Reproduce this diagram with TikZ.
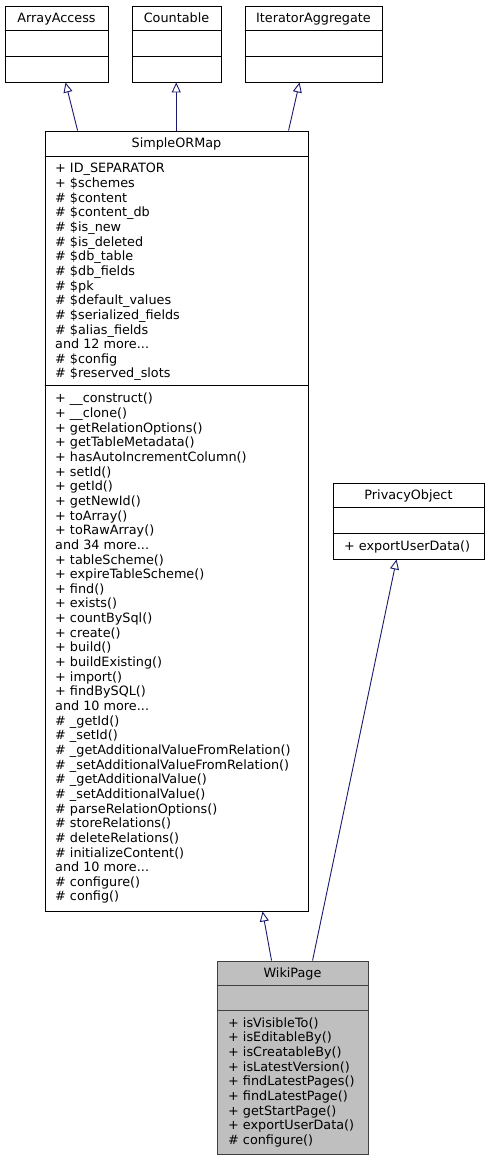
\documentclass[tikz,border=0pt]{standalone}
\usepackage{fontspec}
\setmainfont{DejaVu Sans}
\usetikzlibrary{arrows.meta}
\definecolor{edgeblue}{HTML}{191970}
\definecolor{wikigray}{HTML}{BFBFBF}
\definecolor{wikiborder}{HTML}{404040}
\begin{document}
\begin{tikzpicture}[x=1pt,y=-1pt,
  cls/.style={draw=black, line width=0.9pt, fill=white, inner sep=0pt, rectangle},
  hl/.style={cls, draw=wikiborder, fill=wikigray},
  ttl/.style={font=\fontsize{12.8}{14.65}\selectfont, inner sep=0pt, anchor=base},
  lst/.style={font=\fontsize{12.8}{14.65}\selectfont, inner sep=0pt, anchor=north west, align=left},
  divl/.style={draw=black, line width=0.9pt},
  inh/.style={draw=edgeblue, line width=0.9pt, -{Triangle[open, length=10pt, width=9pt, fill=white]}}]
\useasboundingbox (0,0) rectangle (489,1160);

% ArrayAccess
\node[cls, minimum width=103pt, minimum height=76pt] (aa) at (56.5,44) {};
\node[ttl] (aat) at (56.5,22) {ArrayAccess};
\draw[divl] ([yshift=-25pt]aa.north west) -- ([yshift=-25pt]aa.north east);
\draw[divl] ([yshift=-51pt]aa.north west) -- ([yshift=-51pt]aa.north east);

% Countable
\node[cls, minimum width=89pt, minimum height=76pt] (cnt) at (176.5,44) {};
\node[ttl] (cntt) at (176.5,22) {Countable};
\draw[divl] ([yshift=-25pt]cnt.north west) -- ([yshift=-25pt]cnt.north east);
\draw[divl] ([yshift=-51pt]cnt.north west) -- ([yshift=-51pt]cnt.north east);

% IteratorAggregate
\node[cls, minimum width=137pt, minimum height=76pt] (ia) at (313.5,44) {};
\node[ttl] (iat) at (313.5,22) {IteratorAggregate};
\draw[divl] ([yshift=-25pt]ia.north west) -- ([yshift=-25pt]ia.north east);
\draw[divl] ([yshift=-51pt]ia.north west) -- ([yshift=-51pt]ia.north east);

% SimpleORMap
\node[cls, minimum width=263pt, minimum height=780pt] (sorm) at (176.5,521) {};
\node[ttl] (sormt) at (176.5,147.7) {SimpleORMap};
\draw[divl] ([yshift=-26pt]sorm.north west) -- ([yshift=-26pt]sorm.north east);
\draw[divl] ([yshift=-255pt]sorm.north west) -- ([yshift=-255pt]sorm.north east);
\node[lst] (sorma) at (55,162.4) {\strut+ ID\_SEPARATOR\\
+ \$schemes\\
\# \$content\\
\# \$content\_db\\
\# \$is\_new\\
\# \$is\_deleted\\
\# \$db\_table\\
\# \$db\_fields\\
\# \$pk\\
\# \$default\_values\\
\# \$serialized\_fields\\
\# \$alias\_fields\\
and 12 more...\\
\# \$config\\
\# \$reserved\_slots};
\node[lst] (sormm) at (55,392.4) {\strut+ \_\_construct()\\
+ \_\_clone()\\
+ getRelationOptions()\\
+ getTableMetadata()\\
+ hasAutoIncrementColumn()\\
+ setId()\\
+ getId()\\
+ getNewId()\\
+ toArray()\\
+ toRawArray()\\
and 34 more...\\
+ tableScheme()\\
+ expireTableScheme()\\
+ find()\\
+ exists()\\
+ countBySql()\\
+ create()\\
+ build()\\
+ buildExisting()\\
+ import()\\
+ findBySQL()\\
and 10 more...\\
\# \_getId()\\
\# \_setId()\\
\# \_getAdditionalValueFromRelation()\\
\# \_setAdditionalValueFromRelation()\\
\# \_getAdditionalValue()\\
\# \_setAdditionalValue()\\
\# parseRelationOptions()\\
\# storeRelations()\\
\# deleteRelations()\\
\# initializeContent()\\
and 10 more...\\
\# configure()\\
\# config()};

% PrivacyObject
\node[cls, minimum width=151pt, minimum height=76pt] (po) at (408.5,521) {};
\node[ttl] (pot) at (408.5,499) {PrivacyObject};
\draw[divl] ([yshift=-25pt]po.north west) -- ([yshift=-25pt]po.north east);
\draw[divl] ([yshift=-51pt]po.north west) -- ([yshift=-51pt]po.north east);
\node[lst] (pom) at (344,539.7) {\strut+ exportUserData()};

% WikiPage
\node[hl, minimum width=151pt, minimum height=193pt] (wiki) at (292.5,1057.5) {};
\node[ttl] (wikit) at (292.5,977.3) {WikiPage};
\draw[divl, draw=wikiborder] ([yshift=-25pt]wiki.north west) -- ([yshift=-25pt]wiki.north east);
\draw[divl, draw=wikiborder] ([yshift=-50pt]wiki.north west) -- ([yshift=-50pt]wiki.north east);
\node[lst] (wikim) at (228,1016.7) {\strut+ isVisibleTo()\\
+ isEditableBy()\\
+ isCreatableBy()\\
+ isLatestVersion()\\
+ findLatestPages()\\
+ findLatestPage()\\
+ getStartPage()\\
+ exportUserData()\\
\# configure()};

% inheritance edges
\draw[inh] ([xshift=33pt]sorm.north west) -- ([xshift=61pt]aa.south west);
\draw[inh] ([xshift=131.7pt]sorm.north west) -- ([xshift=44.7pt]cnt.south west);
\draw[inh] ([xshift=244pt]sorm.north west) -- ([xshift=55pt]ia.south west);
\draw[inh] ([xshift=55pt]wiki.north west) -- ([xshift=218pt]sorm.south west);
\draw[inh] ([xshift=96pt]wiki.north west) -- ([xshift=64pt]po.south west);
\end{tikzpicture}
\end{document}
